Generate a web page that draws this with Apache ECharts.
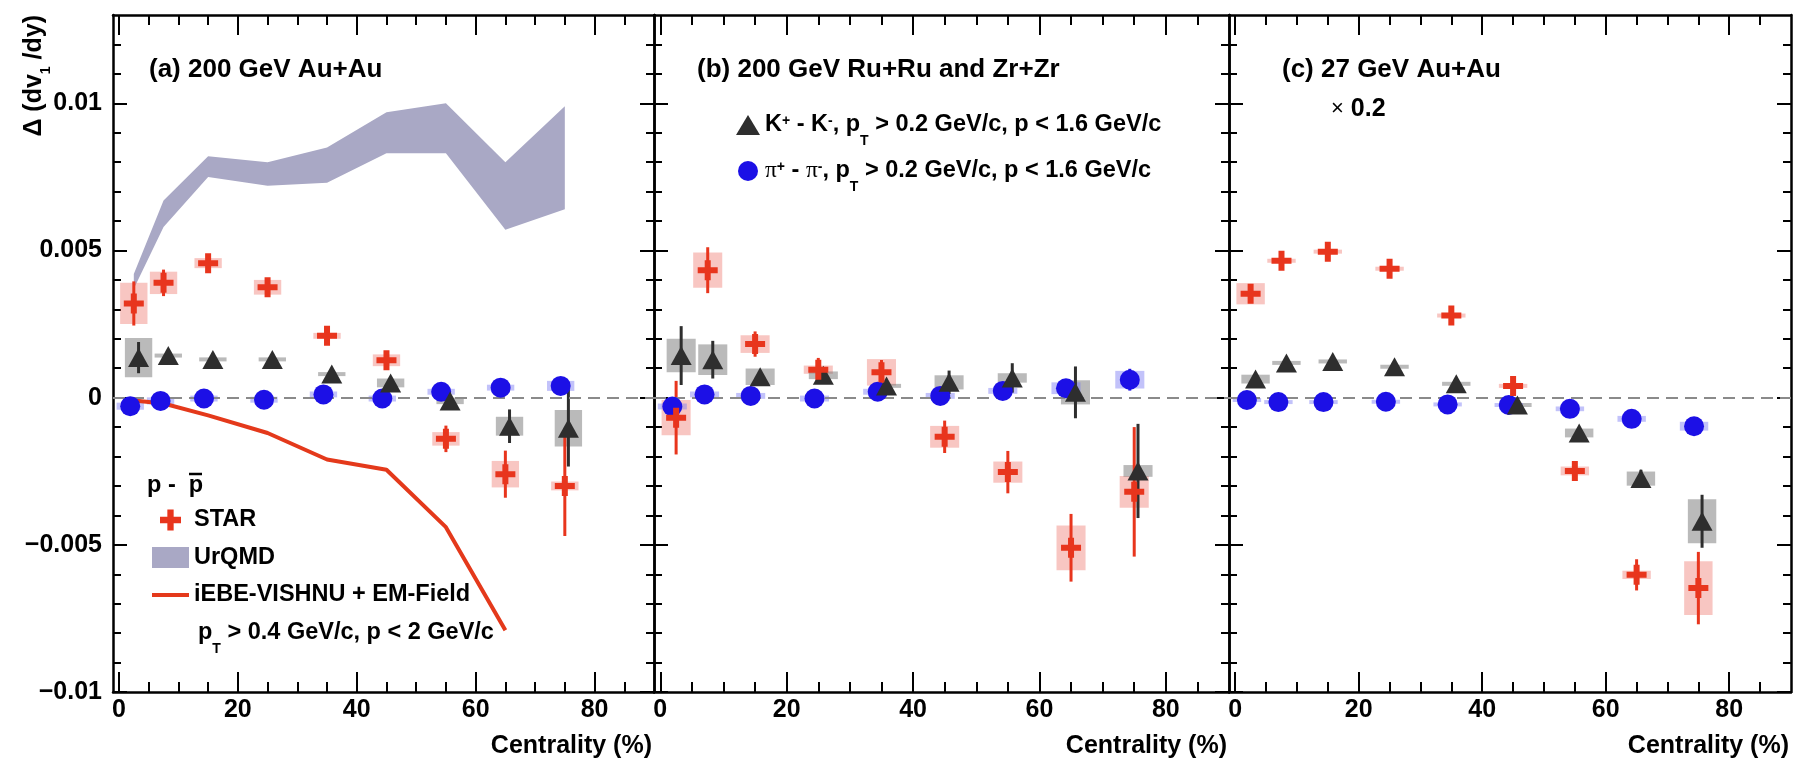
<!DOCTYPE html>
<html><head><meta charset="utf-8">
<script src="https://cdn.jsdelivr.net/npm/echarts@6/dist/echarts.min.js"></script>
<style>html,body{margin:0;padding:0;background:#fff;}#c{width:1793px;height:761px;}</style>
</head><body><div id="c"></div>
<script>
// ---------------- data ----------------
// x positions (centrality %) of the markers of each species
const protonX = [2.5, 7.5, 15, 25, 35, 45, 55, 65, 75];
const kaonX   = [3.3, 8.3, 15.8, 25.8, 35.8, 45.7, 55.7, 65.7, 75.6];
const pionX   = [1.9, 7.0, 14.3, 24.4, 34.4, 44.3, 54.2, 64.2, 74.3];

// (a) 200 GeV Au+Au
const a_starV    = [0.0032, 0.0039, 0.00457, 0.00375, 0.0021, 0.00127, -0.0014, -0.0026, -0.003];
const a_starStat = [0.00075, 0.00045, 0.0002, 0.00015, 0.00015, 0.0002, 0.00045, 0.0008, 0.0017];
const a_starSys  = [0.0007, 0.00038, 0.00017, 0.00025, 0.0001, 0.0002, 0.00023, 0.00045, 0.00015];
const a_kaonV    = [0.00136, 0.00143, 0.0013, 0.0013, 0.0008, 0.0005, -0.00011, -0.00097, -0.00104];
const a_kaonStat = [0.00053, 0.0002, 0.0001, 0.0001, 0.0001, 0.0002, 0.0002, 0.00057, 0.0013];
const a_kaonSys  = [0.00067, 0.00005, 0.00004, 0.00004, 0.00005, 0.00015, 0.00011, 0.00032, 0.00062];
const a_pionV    = [-0.00029, -0.00011, -0.00003, -0.00007, 0.00011, -0.00003, 0.0002, 0.00034, 0.0004];
const a_pionStat = [0.0001, 0.0001, 0.0001, 0.0001, 0.0001, 0.0001, 0.0001, 0.0001, 0.0001];
const a_pionSys  = [0.00012, 0.00012, 0.0001, 0.0001, 0.0001, 0.0001, 0.0001, 0.0001, 0.00017];
const urqmdX  = [2.5, 7.5, 15, 25, 35, 45, 55, 65, 75];
const urqmdLo = [0.0037, 0.0058, 0.0075, 0.0072, 0.0073, 0.0083, 0.0083, 0.0057, 0.0064];
const urqmdHi = [0.0042, 0.0067, 0.0082, 0.0080, 0.0085, 0.0097, 0.0100, 0.0080, 0.0099];
const vishnuX = [2.5, 7.5, 15, 25, 35, 45, 55, 65];
const vishnuV = [-0.0001, -0.0002, -0.0006, -0.0012, -0.0021, -0.00245, -0.0044, -0.0079];

// (b) 200 GeV Ru+Ru and Zr+Zr
const b_starV    = [-0.00068, 0.00433, 0.00182, 0.00095, 0.00086, -0.00133, -0.00253, -0.0051, -0.0032];
const b_starStat = [0.00125, 0.00078, 0.00043, 0.0004, 0.00042, 0.00055, 0.00072, 0.00115, 0.0022];
const b_starSys  = [0.0006, 0.0006, 0.0003, 0.00014, 0.00045, 0.00037, 0.00036, 0.00076, 0.00054];
const b_kaonV    = [0.00143, 0.00129, 0.00071, 0.00076, 0.0004, 0.00052, 0.00067, 0.00018, -0.00249];
const b_kaonStat = [0.001, 0.00064, 0.0001, 0.0001, 0.0001, 0.0004, 0.0005, 0.00088, 0.0016];
const b_kaonSys  = [0.00057, 0.00052, 0.00028, 0.00013, 0.00006, 0.00024, 0.00016, 0.00041, 0.0002];
const b_pionV    = [-0.0003, 0.00011, 0.00006, -0.00003, 0.0002, 0.00006, 0.00023, 0.00032, 0.00061];
const b_pionStat = [0.0001, 0.0001, 0.0001, 0.0001, 0.0001, 0.0001, 0.0001, 0.0001, 0.00037];
const b_pionSys  = [0.0001, 0.0001, 0.0001, 0.0001, 0.0001, 0.0001, 0.0001, 0.0002, 0.0003];

// (c) 27 GeV Au+Au (x 0.2)
const c_starV    = [0.00353, 0.00465, 0.00496, 0.00438, 0.00279, 0.0004, -0.00249, -0.00602, -0.00647];
const c_starStat = [0.0001, 0.0001, 0.0002, 0.0002, 0.0002, 0.0002, 0.0002, 0.00053, 0.00123];
const c_starSys  = [0.00036, 0.00006, 0.00006, 0.00006, 0.00006, 0.00006, 0.00015, 0.00014, 0.00091];
const c_kaonV    = [0.00063, 0.00118, 0.00123, 0.00105, 0.00047, -0.00025, -0.0012, -0.00275, -0.0042];
const c_kaonStat = [0.0001, 0.0001, 0.0001, 0.0001, 0.0001, 0.0001, 0.0001, 0.0003, 0.0009];
const c_kaonSys  = [0.00015, 0.00005, 0.00004, 0.00005, 0.00004, 0.00004, 0.00015, 0.00024, 0.00075];
const c_pionV    = [-0.00008, -0.00015, -0.00015, -0.00014, -0.00023, -0.00025, -0.00038, -0.00072, -0.00097];
const c_pionStat = [0.0001, 0.0001, 0.0001, 0.0001, 0.0001, 0.0001, 0.0001, 0.0001, 0.0001];
const c_pionSys  = [0.00005, 0.00005, 0.00005, 0.00005, 0.00005, 0.00005, 0.00008, 0.0001, 0.00015];

// axes
const X_MIN = -1, X_MAX = 90;
const Y_MIN = -0.01, Y_MAX = 0.013;
const xMajorTicks = [0, 20, 40, 60, 80];
const xMinorTicks = [5, 10, 15, 25, 30, 35, 45, 50, 55, 65, 70, 75, 85];
const yMajorTicks = [-0.01, -0.005, 0, 0.005, 0.01];
const yTickLabels = ['\u22120.01', '\u22120.005', '0', '0.005', '0.01'];
const yMinorTicks = [-0.009, -0.008, -0.007, -0.006, -0.004, -0.003, -0.002, -0.001,
                     0.001, 0.002, 0.003, 0.004, 0.006, 0.007, 0.008, 0.009, 0.011, 0.012];
const panelTitles = ['(a) 200 GeV Au+Au', '(b) 200 GeV Ru+Ru and Zr+Zr', '(c) 27 GeV Au+Au'];
const xTitle = 'Centrality (%)';

// ---------------- styles ----------------
const FONT = '"Liberation Sans", Arial, Helvetica, sans-serif';
const RED = '#e8351d', RED_BOX = 'rgba(236,105,95,0.38)';
const BLACK = '#2e2e2e', GRAY_BOX = 'rgba(110,110,110,0.48)';
const BLUE = '#1c10e6', BLUE_BOX = 'rgba(120,120,245,0.45)';
const BAND = '#a9a8c5', LINE_RED = '#e4391b';
const BOX_HALF = 2.3;
const CROSS_PATH = 'path://M7,0h6v7h7v6h-7v7h-6v-7h-7v-6h7z';
const LINE_ICON = 'path://M0,0h37v4h-37z';
const KAON_NAME = 'K+ - K-, pT > 0.2 GeV/c, p < 1.6 GeV/c';
const PION_NAME = 'pi+ - pi-, pT > 0.2 GeV/c, p < 1.6 GeV/c';
const CHART_W = 1793;

const grids = [
  {left: 113, top: 15, width: 541, height: 677, outerBoundsMode: 'none', containLabel: false},
  {left: 654, top: 15, width: 575, height: 677, outerBoundsMode: 'none', containLabel: false},
  {left: 1229, top: 15, width: 562, height: 677, outerBoundsMode: 'none', containLabel: false}
];
const panels = [
  {star: [a_starV, a_starStat, a_starSys], kaon: [a_kaonV, a_kaonStat, a_kaonSys], pion: [a_pionV, a_pionStat, a_pionSys]},
  {star: [b_starV, b_starStat, b_starSys], kaon: [b_kaonV, b_kaonStat, b_kaonSys], pion: [b_pionV, b_pionStat, b_pionSys]},
  {star: [c_starV, c_starStat, c_starSys], kaon: [c_kaonV, c_kaonStat, c_kaonSys], pion: [c_pionV, c_pionStat, c_pionSys]}
];

const labelFont = {fontSize: 25, fontWeight: 'bold', fontFamily: FONT, color: '#000'};

function xAxisDef(gi, pos, major, labels) {
  return {
    type: 'value', gridIndex: gi, position: pos, min: X_MIN, max: X_MAX,
    axisLine: {show: major, onZero: false, lineStyle: {color: '#000', width: 2.5}},
    axisTick: {show: true, inside: true, length: major ? 20 : 10,
               customValues: major ? xMajorTicks : xMinorTicks,
               lineStyle: {color: '#000', width: 2}},
    axisLabel: labels ? Object.assign({show: true, customValues: xMajorTicks, margin: 6}, labelFont) : {show: false},
    splitLine: {show: false}, minorTick: {show: false}
  };
}
function yAxisDef(gi, pos, major, labels) {
  return {
    type: 'value', gridIndex: gi, position: pos, min: Y_MIN, max: Y_MAX,
    axisLine: {show: major, onZero: false, lineStyle: {color: '#000', width: 2.5}},
    axisTick: {show: true, inside: true, length: major ? 14 : 8,
               customValues: major ? yMajorTicks : yMinorTicks,
               lineStyle: {color: '#000', width: 2}},
    axisLabel: labels ? Object.assign({
      show: true, customValues: yMajorTicks, margin: 11,
      formatter: function (v) {
        const i = yMajorTicks.findIndex(t => Math.abs(t - v) < 1e-9);
        return i >= 0 ? yTickLabels[i] : '';
      }}, labelFont) : {show: false},
    splitLine: {show: false}, minorTick: {show: false}
  };
}

function boxRender(fill) {
  return function (params, api) {
    const x = api.value(0), v = api.value(1), s = api.value(2);
    const p1 = api.coord([x - BOX_HALF, v + s]);
    const p2 = api.coord([x + BOX_HALF, v - s]);
    let y = p1[1], h = p2[1] - p1[1];
    if (h < 4) { y = (p1[1] + p2[1]) / 2 - 2; h = 4; }
    return {type: 'rect', shape: {x: p1[0], y: y, width: p2[0] - p1[0], height: h}, style: {fill: fill}};
  };
}
function errRender(color) {
  return function (params, api) {
    const x = api.value(0), v = api.value(1), e = api.value(2);
    const p1 = api.coord([x, v + e]);
    const p2 = api.coord([x, v - e]);
    return {type: 'line', shape: {x1: p1[0], y1: p1[1], x2: p2[0], y2: p2[1]}, style: {stroke: color, lineWidth: 3}};
  };
}
function triples(xs, vs, es) { return xs.map((x, i) => [x, vs[i], es[i]]); }

const xAxes = [], yAxes = [], series = [];
panels.forEach((p, gi) => {
  const xi = xAxes.length, yi = yAxes.length;
  xAxes.push(xAxisDef(gi, 'bottom', true, true), xAxisDef(gi, 'bottom', false, false),
             xAxisDef(gi, 'top', true, false), xAxisDef(gi, 'top', false, false));
  yAxes.push(yAxisDef(gi, 'left', true, gi === 0), yAxisDef(gi, 'left', false, false),
             yAxisDef(gi, 'right', true, false), yAxisDef(gi, 'right', false, false));
  const ax = {xAxisIndex: xi, yAxisIndex: yi};
  const species = [
    {xs: protonX, d: p.star, box: RED_BOX, col: RED},
    {xs: kaonX, d: p.kaon, box: GRAY_BOX, col: BLACK},
    {xs: pionX, d: p.pion, box: BLUE_BOX, col: BLUE}
  ];
  species.forEach(s => {
    series.push(Object.assign({type: 'custom', z: 2, silent: true, renderItem: boxRender(s.box),
      encode: {x: 0, y: 1}, data: triples(s.xs, s.d[0], s.d[2])}, ax));
    series.push(Object.assign({type: 'custom', z: 4, silent: true, renderItem: errRender(s.col),
      encode: {x: 0, y: 1}, data: triples(s.xs, s.d[0], s.d[1])}, ax));
  });
  if (gi === 0) {
    series.push(Object.assign({
      type: 'custom', name: 'UrQMD', z: 1, silent: true, itemStyle: {color: BAND},
      encode: {x: 0, y: 1},
      data: urqmdX.map((x, i) => [x, urqmdLo[i], urqmdHi[i]]),
      renderItem: function (params, api) {
        if (params.dataIndex !== 0) return null;
        const pts = [];
        for (let i = 0; i < urqmdX.length; i++) pts.push(api.coord([urqmdX[i], urqmdHi[i]]));
        for (let i = urqmdX.length - 1; i >= 0; i--) pts.push(api.coord([urqmdX[i], urqmdLo[i]]));
        return {type: 'polygon', shape: {points: pts}, style: {fill: BAND}};
      }}, ax));
    series.push(Object.assign({
      type: 'line', name: 'iEBE-VISHNU + EM-Field', z: 3, symbol: 'none', showSymbol: false,
      lineStyle: {color: LINE_RED, width: 4}, itemStyle: {color: LINE_RED},
      data: vishnuX.map((x, i) => [x, vishnuV[i]])}, ax));
  }
  series.push(Object.assign({
    type: 'scatter', name: PION_NAME, z: 5, symbol: 'circle', symbolSize: 20,
    itemStyle: {color: BLUE, opacity: 1}, data: pionX.map((x, i) => [x, p.pion[0][i]]),
    markLine: {silent: true, symbol: 'none', label: {show: false},
      lineStyle: {color: '#8a8a8a', type: [12, 7], width: 2}, data: [{yAxis: 0}]}}, ax));
  series.push(Object.assign({
    type: 'scatter', name: KAON_NAME, z: 6, symbol: 'triangle', symbolSize: [21, 19],
    itemStyle: {color: BLACK, opacity: 1}, data: kaonX.map((x, i) => [x, p.kaon[0][i]])}, ax));
  series.push(Object.assign({
    type: 'scatter', name: 'STAR', z: 7, symbol: CROSS_PATH, symbolSize: 20,
    itemStyle: {color: RED, opacity: 1}, data: protonX.map((x, i) => [x, p.star[0][i]])}, ax));
});

const LEG = 23.5;
const richBase = {
  n: {fontSize: LEG, fontWeight: 'bold', fontFamily: FONT, color: '#000', lineHeight: 26, verticalAlign: 'middle'},
  sup: {fontSize: 14, fontWeight: 'bold', fontFamily: FONT, color: '#000', lineHeight: 14, padding: [0, 0, 8, 0], verticalAlign: 'middle'},
  sub: {fontSize: 14, fontWeight: 'bold', fontFamily: FONT, color: '#000', lineHeight: 12, padding: [32, 0, 0, 0], verticalAlign: 'middle'},
  pi: {fontSize: LEG, fontWeight: 'normal', fontFamily: '"Liberation Serif", "Times New Roman", serif', color: '#000', lineHeight: 26, verticalAlign: 'middle'},
  x: {fontSize: 22, fontWeight: 'normal', fontFamily: FONT, color: '#000', lineHeight: 26, verticalAlign: 'middle'},
  t: {fontSize: 25, fontWeight: 'bold', fontFamily: FONT, color: '#000', lineHeight: 26, verticalAlign: 'middle'}
};
const kaonRich = '{n|K}{sup|+}{n| - K}{sup|-}{n|, p}{sub|T}{n| > 0.2 GeV/c, p < 1.6 GeV/c}';
const pionRich = '{pi|\u03c0}{sup|+}{n| - }{pi|\u03c0}{sup|-}{n|, p}{sub|T}{n| > 0.2 GeV/c, p < 1.6 GeV/c}';

const graphics = [
  {type: 'text', x: 34, y: 15, rotation: Math.PI / 2,
   style: {text: '{n|\u0394 (dv}{s|1}{n| /dy)}', align: 'right', verticalAlign: 'middle',
     rich: {n: {fontSize: 25, fontWeight: 'bold', fontFamily: FONT, fill: '#000', lineHeight: 26, verticalAlign: 'middle'},
            s: {fontSize: 14, fontWeight: 'bold', fontFamily: FONT, fill: '#000', lineHeight: 10, padding: [24, 0, 0, 0], verticalAlign: 'middle'}}}},
  {type: 'text', x: 1331, y: 109,
   style: {text: '{x|\u00d7}{t| 0.2}', verticalAlign: 'middle', rich: richBase}},
  {type: 'text', x: 147, y: 486,
   style: {text: '{n|p -  p}', verticalAlign: 'middle', rich: richBase}},
  {type: 'line', shape: {x1: 189, y1: 474, x2: 202, y2: 474}, style: {stroke: '#000', lineWidth: 2.5}},
  {type: 'text', x: 198, y: 633,
   style: {text: '{n|p}{sub|T}{n| > 0.4 GeV/c, p < 2 GeV/c}', verticalAlign: 'middle', rich: richBase}}
];

const titles = panelTitles.map((t, i) => ({
  text: t, left: [149, 697, 1282][i], top: 57, padding: 0,
  textStyle: {fontSize: 26, fontWeight: 'bold', fontFamily: FONT, color: '#000', lineHeight: 26}
}));
grids.forEach(g => {
  titles.push({text: xTitle, right: CHART_W - (g.left + g.width) + 2, top: 733, padding: 0,
    textStyle: {fontSize: 25, fontWeight: 'bold', fontFamily: FONT, color: '#000', lineHeight: 26}});
});

const option = {
  animation: false,
  backgroundColor: '#fff',
  grid: grids,
  xAxis: xAxes,
  yAxis: yAxes,
  series: series,
  title: titles,
  legend: [
    {orient: 'vertical', left: 152, top: 507, padding: 0, itemWidth: 37, itemHeight: 21, itemGap: 11.5,
     selectedMode: false,
     textStyle: {fontSize: LEG, fontWeight: 'bold', fontFamily: FONT, color: '#000', lineHeight: 26},
     data: [{name: 'STAR', icon: CROSS_PATH}, {name: 'UrQMD', icon: 'rect'},
            {name: 'iEBE-VISHNU + EM-Field', icon: LINE_ICON}]},
    {orient: 'vertical', left: 736, top: 102, padding: 0, itemWidth: 24, itemHeight: 20, itemGap: 0,
     selectedMode: false,
     textStyle: {fontSize: LEG, fontWeight: 'bold', fontFamily: FONT, color: '#000', rich: richBase},
     formatter: function (name) { return name === KAON_NAME ? kaonRich : pionRich; },
     data: [{name: KAON_NAME, icon: 'triangle'}, {name: PION_NAME, icon: 'circle'}]}
  ],
  graphic: graphics
};

const chart = echarts.init(document.getElementById('c'), null, {renderer: 'canvas'});
chart.setOption(option);
</script>
</body></html>
